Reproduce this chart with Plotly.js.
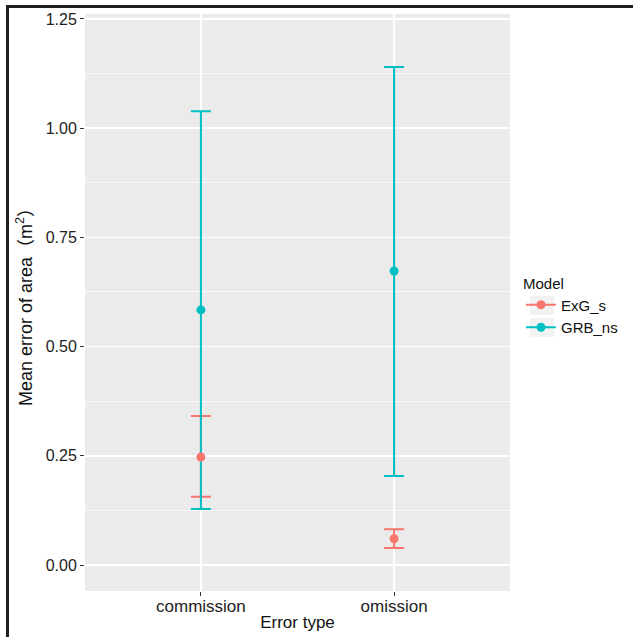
<!DOCTYPE html>
<html>
<head>
<meta charset="utf-8">
<script src="https://cdn.plot.ly/plotly-3.0.1.min.js"></script>
<style>
  html, body { margin: 0; padding: 0; background: #fff; }
  #wrap { position: relative; width: 633px; height: 637px; }
  #chart { position: absolute; left: 0; top: 0; width: 633px; height: 637px; }
  #frame { position: absolute; left: 6px; top: 5px; right: 0; bottom: 0;
           border-top: 3px solid #1e1e1e; border-left: 3px solid #1e1e1e; pointer-events: none; }
</style>
</head>
<body>
<div id="wrap">
  <div id="chart"></div>
  <div id="frame"></div>
</div>
<script>
// ---- data ----
const categories = ['commission', 'omission'];
const modelNames = ['ExG_s', 'GRB_ns'];
const exgMean = [0.247, 0.060];
const exgLow  = [0.156, 0.039];
const exgHigh = [0.341, 0.082];
const grbMean = [0.584, 0.673];
const grbLow  = [0.128, 0.204];
const grbHigh = [1.039, 1.140];
const yTickVals = [0, 0.25, 0.5, 0.75, 1.0, 1.25];
const yTickText = ['0.00', '0.25', '0.50', '0.75', '1.00', '1.25'];

const colExg = '#F8766D';
const colGrb = '#00BFC4';
const fontFam = 'Arial, "Liberation Sans", "Noto Sans CJK SC", sans-serif';

function errTrace(mean, low, high, color) {
  return {
    type: 'scatter', mode: 'markers', x: categories, y: mean,
    marker: { color: 'rgba(0,0,0,0)', size: 1 },
    error_y: {
      type: 'data', symmetric: false,
      array: high.map((h, i) => h - mean[i]),
      arrayminus: low.map((l, i) => mean[i] - l),
      color: color, thickness: 2, width: 10
    },
    showlegend: false, hoverinfo: 'skip'
  };
}
function pointTrace(mean, color, name) {
  return {
    type: 'scatter', mode: 'markers', x: categories, y: mean, name: name,
    marker: { color: color, size: 9 }, showlegend: false
  };
}
function legendTrace(color, name) {
  return {
    type: 'scatter', mode: 'lines+markers', x: [null], y: [null], name: name,
    line: { color: color, width: 2 }, marker: { color: color, size: 9 },
    showlegend: true
  };
}

const data = [
  errTrace(exgMean, exgLow, exgHigh, colExg),
  errTrace(grbMean, grbLow, grbHigh, colGrb),
  pointTrace(exgMean, colExg, modelNames[0]),
  pointTrace(grbMean, colGrb, modelNames[1]),
  legendTrace(colExg, modelNames[0]),
  legendTrace(colGrb, modelNames[1])
];

// legend key backgrounds
const keyShapes = [0, 1].map(i => ({
  type: 'rect', xref: 'paper', yref: 'paper', layer: 'below',
  x0: (530 - 85) / 425, x1: (554 - 85) / 425,
  y0: (591 - (315 + i * 22)) / 577, y1: (591 - (296 + i * 22)) / 577,
  fillcolor: '#F2F2F2', line: { width: 0 }
}));

const layout = {
  width: 633, height: 637,
  margin: { l: 85, r: 123, t: 14, b: 46, pad: 0 },
  paper_bgcolor: '#ffffff',
  plot_bgcolor: '#EBEBEB',
  font: { family: fontFam, color: '#222' },
  xaxis: {
    type: 'category', range: [-0.6, 1.6],
    showgrid: true, gridcolor: '#ffffff', gridwidth: 1.5,
    zeroline: false, showline: false,
    ticks: 'outside', ticklen: 4, tickcolor: '#333', tickwidth: 1,
    ticklabelstandoff: -4,
    tickfont: { size: 17, color: '#222', family: fontFam },
    title: { text: 'Error type', font: { size: 17, color: '#111', family: fontFam }, standoff: 0 }
  },
  yaxis: {
    range: [-0.0595, 1.2614],
    tickvals: yTickVals, ticktext: yTickText,
    showgrid: true, gridcolor: '#ffffff', gridwidth: 1.5,
    minor: { tick0: 0.125, dtick: 0.25, showgrid: true, gridcolor: '#ffffff', gridwidth: 0.7, ticks: '' },
    zeroline: false, showline: false,
    ticks: 'outside', ticklen: 4, tickcolor: '#333', tickwidth: 1,
    tickfont: { size: 16, color: '#222', family: fontFam },
    title: { text: 'Mean error of area\uFF08m<sup>2</sup>\uFF09', font: { size: 18, color: '#111', family: fontFam }, standoff: 8 }
  },
  shapes: keyShapes,
  legend: {
    xref: 'container', yref: 'container',
    x: 521 / 633, xanchor: 'left', y: 1 - 269 / 637, yanchor: 'top',
    bgcolor: 'rgba(0,0,0,0)',
    font: { size: 15, color: '#111', family: fontFam },
    title: { text: 'Model', font: { size: 15, color: '#111', family: fontFam } },
    itemwidth: 30, tracegroupgap: 0
  },
  showlegend: true
};

Plotly.newPlot('chart', data, layout, { displayModeBar: false, staticPlot: true });
</script>
</body>
</html>
